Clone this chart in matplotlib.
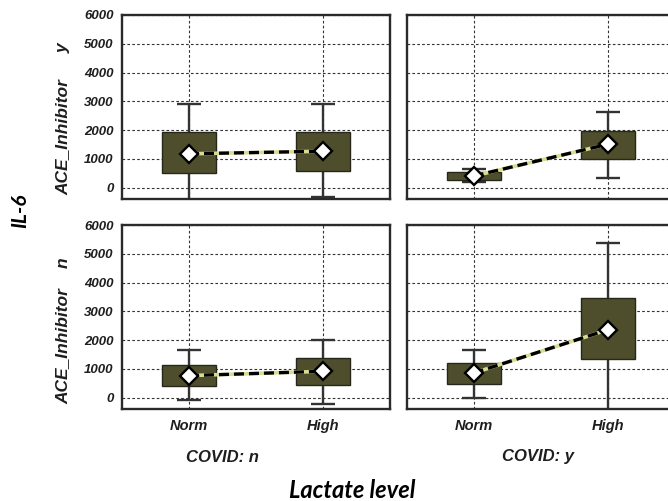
import numpy as np
import matplotlib.pyplot as plt

# categories and panel labels
levels = ["Norm", "High"]
covid = ["n", "y"]
ace = ["y", "n"]

# box stats per panel, order: [Norm, High]
# key = (ace, covid)
whis_lo = {("y", "n"): [-500, -330], ("y", "y"): [190, 330],
           ("n", "n"): [-90, -200], ("n", "y"): [0, -500]}
q1 = {("y", "n"): [520, 580], ("y", "y"): [270, 990],
      ("n", "n"): [400, 440], ("n", "y"): [480, 1350]}
q3 = {("y", "n"): [1920, 1940], ("y", "y"): [540, 1980],
      ("n", "n"): [1150, 1370], ("n", "y"): [1210, 3460]}
whis_hi = {("y", "n"): [2900, 2900], ("y", "y"): [640, 2640],
           ("n", "n"): [1650, 2020], ("n", "y"): [1670, 5360]}
means = {("y", "n"): [1180, 1270], ("y", "y"): [410, 1510],
         ("n", "n"): [770, 920], ("n", "y"): [860, 2360]}

yticks = [0, 1000, 2000, 3000, 4000, 5000, 6000]

W, H = 668, 501
fig = plt.figure(figsize=(W / 100, H / 100), dpi=100)

box_col = "#4e4e2c"
edge_col = "#26261a"
tick_font = dict(family="Liberation Sans", weight="bold", style="italic", color="#1e1e1e")

lefts = [122, 406.7]
tops = [15, 225]
aw, ah = 268, 184.3

for r, a in enumerate(ace):
    for c, cv in enumerate(covid):
        key = (a, cv)
        ax = fig.add_axes([lefts[c] / W, 1 - (tops[r] + ah) / H, aw / W, ah / H])
        x = np.arange(len(levels))
        ax.set_xlim(-0.5, 1.5)
        ax.set_ylim(-400, 6000)
        ax.set_yticks(yticks)
        ax.set_xticks(x)
        ax.grid(True, color="#333333", linestyle=(0, (2.4, 2.0)), linewidth=0.8)
        ax.set_axisbelow(True)

        ax.vlines(x, whis_lo[key], whis_hi[key], color="#333333", lw=1.7, zorder=2)
        ax.hlines(whis_lo[key], x - 0.09, x + 0.09, color="#333333", lw=1.7, zorder=2)
        ax.hlines(whis_hi[key], x - 0.09, x + 0.09, color="#333333", lw=1.7, zorder=2)
        ax.bar(x, np.array(q3[key]) - np.array(q1[key]), bottom=q1[key], width=0.4,
               color=box_col, edgecolor=edge_col, linewidth=1.0, zorder=3)
        ax.plot(x, means[key], color="#d8dc90", lw=2.6, zorder=4)
        ax.plot(x, means[key], color="black", lw=2.4, linestyle=(0, (3, 1.5)), zorder=5)
        ax.plot(x, means[key], linestyle="none", marker="D", ms=9,
                mfc="white", mec="black", mew=1.7, zorder=6)

        for s in ax.spines.values():
            s.set_color("#2a2a2a")
            s.set_linewidth(1.7)
        ax.tick_params(length=0, pad=6)
        if c == 0:
            ax.set_yticklabels([str(v) for v in yticks], fontsize=9.5, **tick_font)
        else:
            ax.set_yticklabels([])
        if r == 1:
            ax.set_xticklabels(levels, fontsize=10.5, **tick_font)
            ax.tick_params(axis="x", pad=7)
        else:
            ax.set_xticklabels([])

# row labels
row_y = {"y": (137, 48), "n": (346, 263)}
for a in ace:
    yl, yv = row_y[a]
    fig.text(63 / W, 1 - yl / H, "ACE_Inhibitor", rotation=90, ha="center", va="center",
             fontsize=12.5, **tick_font)
    fig.text(63 / W, 1 - yv / H, a, rotation=90, ha="center", va="center",
             fontsize=12.5, **tick_font)

# column labels
fig.text(222 / W, 1 - 457 / H, "COVID: n", ha="center", va="center", fontsize=12, **tick_font)
fig.text(538 / W, 1 - 457 / H, "COVID: y", ha="center", va="center", fontsize=12, **tick_font)

big_font = dict(family="Lato", weight="bold", style="italic", color="black")
fig.text(20 / W, 1 - 211 / H, "IL-6", rotation=90, ha="center", va="center",
         fontsize=15, **big_font)
fig.text(352 / W, 1 - 491 / H, "Lactate level", ha="center", va="center",
         fontsize=17, **big_font)

fig.savefig("out.png", dpi=100)
